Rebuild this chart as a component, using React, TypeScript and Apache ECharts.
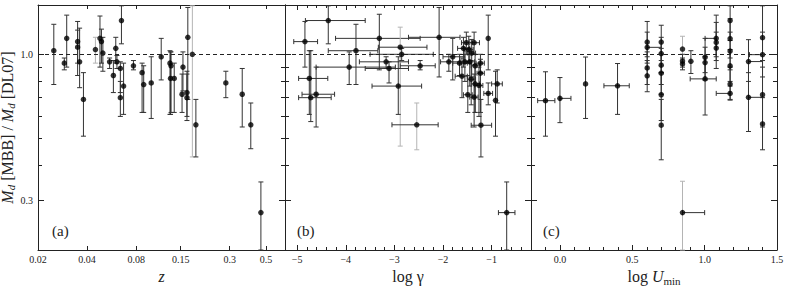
import React, { useEffect, useRef } from 'react';
import * as echarts from 'echarts';

// ---------- Panel (a): redshift z ----------
const aZ = [0.025, 0.029, 0.030, 0.035, 0.035, 0.036, 0.038, 0.045, 0.048, 0.049, 0.050, 0.055, 0.058, 0.060, 0.061, 0.064, 0.064, 0.065, 0.067, 0.077, 0.087, 0.089, 0.099, 0.114, 0.129, 0.131, 0.130, 0.137, 0.153, 0.155, 0.164, 0.164, 0.166, 0.177, 0.186, 0.284, 0.358, 0.404, 0.466];
const aRatio = [1.03, 0.93, 1.14, 1.11, 1.06, 0.94, 0.69, 1.04, 1.14, 1.11, 1.01, 0.94, 0.84, 1.05, 0.94, 0.89, 0.70, 1.32, 0.77, 0.91, 0.86, 0.78, 0.79, 0.98, 0.93, 0.91, 0.82, 0.82, 0.72, 0.90, 0.73, 0.70, 1.15, 1.00, 0.56, 0.79, 0.72, 0.56, 0.272];
const aLo = [0.78, 0.88, 0.90, 0.93, 0.84, 0.76, 0.51, 0.93, 0.90, 0.93, 0.87, 0.89, 0.73, 0.93, 0.89, 0.73, 0.60, 1.09, 0.61, 0.88, 0.62, 0.62, 0.59, 0.81, 0.61, 0.62, 0.61, 0.62, 0.62, 0.74, 0.60, 0.58, 0.69, 0.43, 0.43, 0.70, 0.55, 0.46, 0.20];
const aHi = [1.28, 0.97, 1.38, 1.31, 1.22, 1.24, 0.86, 1.15, 1.37, 1.23, 1.15, 0.97, 0.95, 1.15, 0.99, 0.94, 0.80, 1.49, 0.93, 0.95, 0.93, 0.91, 0.98, 1.14, 1.03, 1.02, 1.02, 0.93, 0.85, 1.02, 0.87, 0.85, 1.47, 1.49, 0.69, 0.87, 0.89, 0.67, 0.35];
const aFaint = [7, 33];

// ---------- Panel (b): log gamma ----------
const bG = [-4.84, -4.36, -4.75, -4.61, -4.72, -3.79, -3.93, -3.31, -2.88, -2.85, -3.17, -3.11, -2.92, -2.47, -2.54, -2.08, -1.88, -1.80, -1.66, -1.58, -1.52, -1.36, -1.47, -1.41, -1.55, -1.45, -1.34, -1.23, -1.61, -1.42, -1.23, -1.34, -1.26, -1.49, -1.36, -1.22, -1.07, -1.07, -0.885, -0.92, -0.69];
const bGLo = [-5.07, -4.83, -4.97, -4.90, -4.97, -4.36, -4.61, -4.21, -3.33, -3.50, -3.72, -3.60, -3.46, -2.88, -3.05, -2.71, -2.05, -2.00, -1.80, -1.70, -1.62, -1.45, -1.55, -1.50, -1.65, -1.55, -1.42, -1.32, -1.75, -1.50, -1.30, -1.42, -1.35, -1.58, -1.45, -1.42, -1.07, -1.16, -1.00, -0.92, -0.86];
const bGHi = [-4.58, -3.60, -4.37, -4.23, -4.30, -3.34, -2.98, -2.47, -2.33, -2.20, -2.71, -2.71, -2.44, -2.16, -2.10, -1.65, -1.65, -1.55, -1.50, -1.45, -1.40, -1.25, -1.38, -1.33, -1.45, -1.35, -1.25, -1.15, -1.50, -1.33, -1.15, -1.25, -1.18, -1.40, -1.28, -1.00, -1.07, -0.98, -0.78, -0.92, -0.52];
const bRatio = [1.11, 1.32, 0.82, 0.72, 0.70, 1.03, 0.90, 1.14, 1.06, 1.00, 0.94, 0.89, 0.77, 0.91, 0.56, 1.15, 0.94, 0.98, 0.93, 1.05, 1.10, 1.10, 1.04, 1.01, 0.94, 0.94, 0.91, 0.93, 0.835, 0.815, 0.856, 0.784, 0.774, 0.717, 0.703, 0.558, 1.14, 0.725, 0.784, 0.685, 0.272];
const bLo = [0.90, 1.09, 0.61, 0.55, 0.575, 0.78, 0.78, 0.88, 0.47, 0.95, 0.89, 0.79, 0.61, 0.88, 0.456, 0.83, 0.87, 0.81, 0.84, 0.90, 1.00, 1.00, 0.93, 0.83, 0.80, 0.77, 0.62, 0.86, 0.70, 0.66, 0.62, 0.62, 0.60, 0.62, 0.55, 0.43, 0.88, 0.66, 0.67, 0.51, 0.20];
const bHi = [1.31, 1.49, 1.03, 0.90, 1.03, 1.28, 1.02, 1.39, 1.25, 1.05, 0.98, 0.94, 0.98, 0.95, 0.67, 1.47, 1.00, 1.14, 1.00, 1.15, 1.20, 1.20, 1.16, 1.13, 1.05, 1.05, 1.00, 1.00, 0.97, 0.95, 0.96, 0.92, 0.90, 0.84, 0.85, 0.69, 1.38, 0.79, 0.88, 0.87, 0.35];
const bFaint = [8, 14];

// ---------- Panel (c): log U_min ----------
const cU = [-0.10, 0.00, 0.177, 0.398, 0.603, 0.603, 0.603, 0.603, 0.70, 0.70, 0.70, 0.70, 0.70, 0.70, 0.847, 0.847, 0.847, 0.847, 0.905, 1.003, 1.003, 1.003, 1.08, 1.08, 1.08, 1.176, 1.176, 1.176, 1.176, 1.176, 1.176, 1.303, 1.303, 1.40, 1.40, 1.40, 1.40];
const cULo = [-0.154, 0.00, 0.177, 0.304, 0.603, 0.603, 0.603, 0.603, 0.70, 0.70, 0.70, 0.70, 0.70, 0.70, 0.847, 0.847, 0.847, 0.847, 0.905, 1.003, 1.003, 0.90, 1.003, 1.08, 1.08, 1.176, 1.176, 1.176, 1.176, 1.176, 1.08, 1.303, 1.303, 1.40, 1.31, 1.40, 1.40];
const cUHi = [-0.035, 0.076, 0.177, 0.479, 0.603, 0.70, 0.603, 0.603, 0.70, 0.70, 0.70, 0.70, 0.70, 0.70, 0.847, 0.847, 0.847, 1.00, 0.905, 1.003, 1.003, 1.08, 1.08, 1.08, 1.08, 1.176, 1.176, 1.176, 1.176, 1.176, 1.176, 1.40, 1.40, 1.40, 1.40, 1.40, 1.40];
const cRatio = [0.683, 0.696, 0.784, 0.772, 1.106, 1.059, 0.894, 0.838, 1.106, 1.006, 0.914, 0.856, 0.717, 0.558, 1.044, 0.946, 0.924, 0.272, 0.944, 0.976, 0.934, 0.817, 1.14, 1.103, 1.053, 1.32, 1.137, 1.027, 0.909, 0.783, 0.725, 0.942, 0.702, 1.146, 0.997, 0.717, 0.564];
const cLo = [0.51, 0.57, 0.59, 0.61, 0.98, 0.93, 0.78, 0.735, 0.95, 0.86, 0.78, 0.72, 0.58, 0.42, 0.96, 0.90, 0.88, 0.20, 0.854, 0.86, 0.81, 0.607, 0.98, 0.95, 0.89, 1.12, 0.97, 0.88, 0.80, 0.69, 0.686, 0.80, 0.53, 0.95, 0.83, 0.55, 0.456];
const cHi = [0.866, 0.826, 0.978, 0.927, 1.31, 1.20, 1.02, 0.95, 1.27, 1.15, 1.05, 1.00, 0.86, 0.69, 1.16, 1.00, 0.97, 0.352, 1.03, 1.14, 1.06, 0.98, 1.38, 1.30, 1.20, 1.49, 1.34, 1.20, 1.04, 0.90, 0.77, 1.128, 0.86, 1.49, 1.20, 0.90, 0.70];
const cFaint = [14, 17];

// ---------- Ticks ----------
const yMajorTicks = [0.3, 1.0];
const yMinorTicks = [0.4, 0.5, 0.6, 0.7, 0.8, 0.9];
const zLabels = [0.02, 0.04, 0.08, 0.15, 0.3, 0.5];
const zTicks = [0.04, 0.08, 0.15, 0.3, 0.5];
const gMajor = [-5, -4, -3, -2, -1];
const gMinor = [-4.8, -4.6, -4.4, -4.2, -3.8, -3.6, -3.4, -3.2, -2.8, -2.6, -2.4, -2.2, -1.8, -1.6, -1.4, -1.2, -0.8, -0.6, -0.4];
const uMajor = [0.0, 0.5, 1.0, 1.5];
const uMinor = [-0.1, 0.1, 0.2, 0.3, 0.4, 0.6, 0.7, 0.8, 0.9, 1.1, 1.2, 1.3, 1.4];

const Y_MIN = 0.2, Y_MAX = 1.5;
const Z_MIN = 0.02, Z_MAX = 0.655;
const G_MIN = -5.25, G_MAX = -0.19;
const U_MIN = -0.2, U_MAX = 1.5;

const SERIF = 'Liberation Serif';
const INK = '#222';
const BAR = '#333';
const FAINT = '#b4b4b4';
const L = Math.log10;

function buildOption() {
  const grids = [
    { left: 38, top: 5, width: 247, height: 245 },
    { left: 285, top: 5, width: 246, height: 245 },
    { left: 531, top: 5, width: 246, height: 245 },
  ].map((g) => ({ ...g, containLabel: false, outerBoundsMode: 'none' }));

  const axisBase = (gridIndex: number, position: string, min: number, max: number, ticks: number[], len: number) => ({
    type: 'value',
    gridIndex,
    position,
    min,
    max,
    axisLine: { show: true, onZero: false, lineStyle: { color: INK, width: 1 } },
    axisTick: { show: true, inside: true, length: len, customValues: ticks, lineStyle: { color: INK, width: 1 } },
    axisLabel: { show: false },
    splitLine: { show: false },
    silent: true,
  });

  const labelStyle = (values: number[], formatter: (v: number) => string, margin: number) => ({
    show: true,
    customValues: values,
    formatter,
    fontFamily: SERIF,
    fontSize: 10,
    color: INK,
    margin,
  });

  const nameStyle = {
    fontFamily: SERIF,
    fontSize: 16,
    color: INK,
    rich: {
      n: { fontFamily: SERIF, fontSize: 16, color: INK },
      i: { fontFamily: SERIF, fontSize: 16, fontStyle: 'italic', color: INK },
      s: { fontFamily: SERIF, fontSize: 11, color: INK, padding: [8, 0, 0, 0] },
      si: { fontFamily: SERIF, fontSize: 11, fontStyle: 'italic', color: INK, padding: [7, 0, 0, 0] },
    },
  };

  const xMin = [L(Z_MIN), G_MIN, U_MIN];
  const xMax = [L(Z_MAX), G_MAX, U_MAX];
  const xMajor = [zTicks.map(L), gMajor, uMajor];
  const xMinor: number[][] = [[], gMinor, uMinor];
  const xLabelVals = [zLabels.map(L), gMajor, uMajor];
  const xFormat = [
    (v: number) => String(parseFloat(Math.pow(10, v).toPrecision(2))),
    (v: number) => (v < 0 ? '\u2212' + Math.abs(Math.round(v)) : String(Math.round(v))),
    (v: number) => v.toFixed(1),
  ];
  const xNames = ['{i|z}', '{n|log }{n|\u03b3}', '{n|log }{i|U}{s|min}'];
  const xNameGaps = [12, 12, 10];

  const xAxis: any[] = [];
  const yAxis: any[] = [];
  for (let g = 0; g < 3; g++) {
    const majLen = g === 0 ? 4 : 5;
    xAxis.push({
      ...axisBase(g, 'bottom', xMin[g], xMax[g], xMajor[g], majLen),
      axisLabel: labelStyle(xLabelVals[g], xFormat[g], 4),
      name: xNames[g],
      nameLocation: 'middle',
      nameGap: xNameGaps[g],
      nameTextStyle: nameStyle,
    });
    xAxis.push({ ...axisBase(g, 'bottom', xMin[g], xMax[g], xMinor[g], 3), axisLine: { show: false, onZero: false }, axisTick: { show: xMinor[g].length > 0, inside: true, length: 3, customValues: xMinor[g], lineStyle: { color: INK, width: 1 } } });
    xAxis.push(axisBase(g, 'top', xMin[g], xMax[g], xMajor[g], majLen));
    xAxis.push({ ...axisBase(g, 'top', xMin[g], xMax[g], xMinor[g], 3), axisLine: { show: false, onZero: false }, axisTick: { show: xMinor[g].length > 0, inside: true, length: 3, customValues: xMinor[g], lineStyle: { color: INK, width: 1 } } });

    const yl: any = axisBase(g, 'left', L(Y_MIN), L(Y_MAX), yMajorTicks.map(L), 6);
    if (g === 0) {
      yl.axisLabel = labelStyle(yMajorTicks.map(L), (v: number) => Math.pow(10, v).toFixed(1), 5);
      yl.name = '{i|M}{si|d}{n| [MBB] / }{i|M}{si|d}{n| [DL07]}';
      yl.nameLocation = 'middle';
      yl.nameGap = 16;
      yl.nameRotate = 90;
      yl.nameTextStyle = nameStyle;
    }
    yAxis.push(yl);
    yAxis.push({ ...axisBase(g, 'left', L(Y_MIN), L(Y_MAX), yMinorTicks.map(L), 4), axisLine: { show: false, onZero: false } });
    yAxis.push(axisBase(g, 'right', L(Y_MIN), L(Y_MAX), yMajorTicks.map(L), 6));
    yAxis.push({ ...axisBase(g, 'right', L(Y_MIN), L(Y_MAX), yMinorTicks.map(L), 4), axisLine: { show: false, onZero: false } });
  }

  // rows: [x, y, xlo, xhi, ylo, yhi, faint]
  const panelA = aZ.map((z, i) => [L(z), L(aRatio[i]), L(z), L(z), L(aLo[i]), L(aHi[i]), aFaint.includes(i) ? 1 : 0]);
  const panelB = bG.map((g, i) => [g, L(bRatio[i]), bGLo[i], bGHi[i], L(bLo[i]), L(bHi[i]), bFaint.includes(i) ? 1 : 0]);
  const panelC = cU.map((u, i) => [u, L(cRatio[i]), cULo[i], cUHi[i], L(cLo[i]), L(cHi[i]), cFaint.includes(i) ? 1 : 0]);
  const panels = [panelA, panelB, panelC];

  const renderItem = (params: any, api: any) => {
    const x = api.value(0), y = api.value(1);
    const xlo = api.value(2), xhi = api.value(3), ylo = api.value(4), yhi = api.value(5);
    const faint = api.value(6) === 1;
    const c = api.coord([x, y]);
    const cap = 2.5;
    const children: any[] = [];
    const seg = (x1: number, y1: number, x2: number, y2: number, stroke: string) => ({
      type: 'line',
      shape: { x1, y1, x2, y2 },
      style: { stroke, lineWidth: 1 },
      silent: true,
    });
    if (Math.abs(yhi - ylo) > 1e-9) {
      const stroke = faint ? FAINT : BAR;
      const t = api.coord([x, yhi]);
      const b = api.coord([x, ylo]);
      children.push(seg(c[0], t[1], c[0], b[1], stroke));
      children.push(seg(c[0] - cap, t[1], c[0] + cap, t[1], stroke));
      children.push(seg(c[0] - cap, b[1], c[0] + cap, b[1], stroke));
    }
    if (Math.abs(xhi - xlo) > 1e-9) {
      const l = api.coord([xlo, y]);
      const r = api.coord([xhi, y]);
      children.push(seg(l[0], c[1], r[0], c[1], BAR));
      children.push(seg(l[0], c[1] - cap, l[0], c[1] + cap, BAR));
      children.push(seg(r[0], c[1] - cap, r[0], c[1] + cap, BAR));
    }
    return { type: 'group', children };
  };

  const series: any[] = [];
  panels.forEach((data, g) => {
    series.push({
      type: 'custom',
      xAxisIndex: g * 4,
      yAxisIndex: g * 4,
      data,
      encode: { x: [0, 2, 3], y: [1, 4, 5] },
      renderItem,
      silent: true,
      z: 2,
    });
    series.push({
      type: 'scatter',
      xAxisIndex: g * 4,
      yAxisIndex: g * 4,
      data: data.map((d) => [d[0], d[1]]),
      symbol: 'circle',
      symbolSize: 5.5,
      itemStyle: { color: '#000' },
      silent: true,
      z: 3,
      markLine: {
        silent: true,
        symbol: ['none', 'none'],
        label: { show: false },
        lineStyle: { color: INK, width: 1, type: [4, 3] },
        data: [{ yAxis: 0 }],
        animation: false,
      },
    });
  });

  const panelLabels = ['(a)', '(b)', '(c)'];
  const labelLeft = [52, 297, 543];
  const graphic = panelLabels.map((t, i) => ({
    type: 'text',
    left: labelLeft[i],
    top: 223,
    silent: true,
    style: { text: t, fontFamily: SERIF, fontSize: 15, fill: INK },
  }));

  return {
    animation: false,
    backgroundColor: '#fff',
    textStyle: { fontFamily: SERIF },
    grid: grids,
    xAxis,
    yAxis,
    graphic,
    series,
  };
}

export default function App() {
  const ref = useRef<HTMLDivElement>(null);
  useEffect(() => {
    if (!ref.current) return;
    const chart = echarts.init(ref.current, undefined, { renderer: 'svg' });
    chart.setOption(buildOption() as any);
    return () => chart.dispose();
  }, []);
  return (
    <div
      ref={ref}
      style={{ position: 'absolute', left: 0, top: 0, width: 789, height: 286, background: '#fff' }}
    />
  );
}
